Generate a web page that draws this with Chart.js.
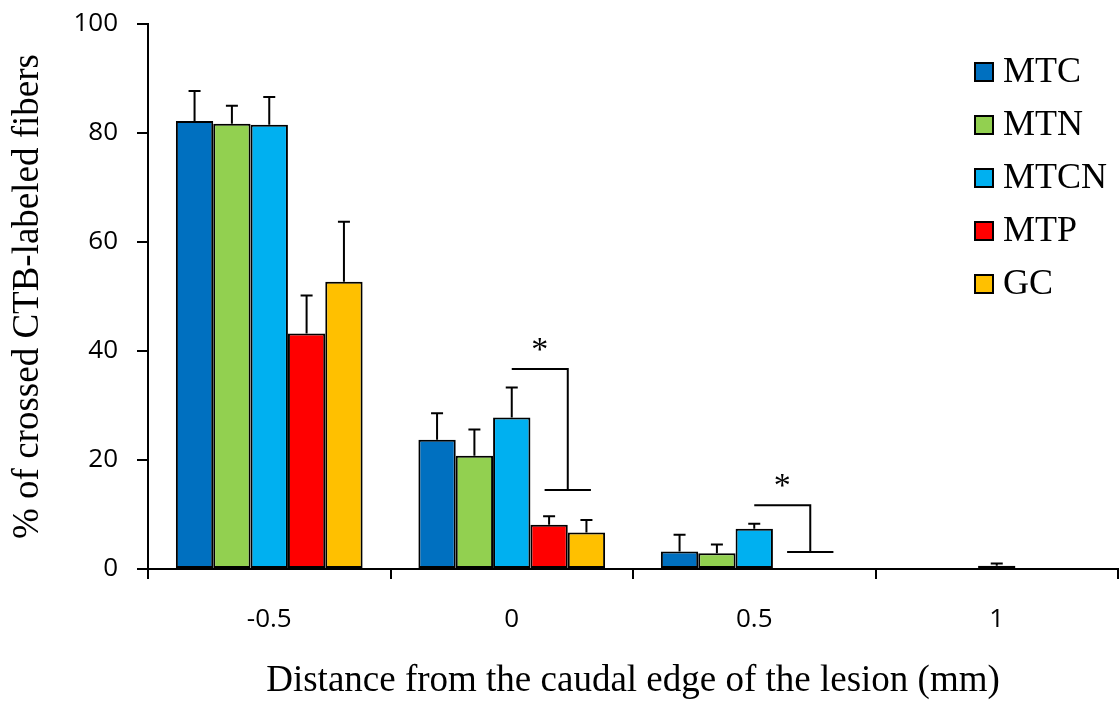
<!DOCTYPE html>
<html>
<head>
<meta charset="utf-8">
<script src="https://cdn.jsdelivr.net/npm/chart.js@4/dist/chart.umd.min.js"></script>
<style>
  html, body { margin: 0; padding: 0; background: #fff; }
</style>
</head>
<body>
<canvas id="chart" width="1120" height="702"></canvas>
<script>
// distance from the caudal edge (mm)
const distances = ['-0.5', '0', '0.5', '1'];
const groupNames = ['MTC', 'MTN', 'MTCN', 'MTP', 'GC'];
const groupColors = ['#0070C0', '#92D050', '#00B0F0', '#FF0000', '#FFC000'];

// mean % of crossed fibers per group
const mtcValues = [82.2, 23.7, 3.2, null];
const mtnValues = [81.7, 20.8, 2.9, null];
const mtcnValues = [81.5, 27.8, 7.4, 0.6];
const mtpValues = [43.2, 8.1, 0, null];
const gcValues = [52.7, 6.7, 0, null];

// upper error (SEM)
const mtcErrors = [5.5, 4.9, 3.1, 0];
const mtnErrors = [3.3, 4.8, 1.6, 0];
const mtcnErrors = [5.1, 5.5, 0.9, 0.4];
const mtpErrors = [7.0, 1.6, 0, 0];
const gcErrors = [11.0, 2.3, 0, 0];

// significance brackets: MTCN vs MTP/GC
const bracketCategories = [1, 2];
const bracketTop = [36.7, 11.7];
const bracketLow = [14.5, 3.1];
const starLevel = [41.2, 16.2];

const seriesValues = [mtcValues, mtnValues, mtcnValues, mtpValues, gcValues];
const seriesErrors = [mtcErrors, mtnErrors, mtcnErrors, mtpErrors, gcErrors];

const sansFont = "'Open Sans', sans-serif";
const serifFont = "'Liberation Serif', 'Times New Roman', serif";

const datasets = groupNames.map((name, i) => ({
  label: name,
  data: seriesValues[i],
  errors: seriesErrors[i],
  backgroundColor: groupColors[i],
  borderColor: '#000',
  borderWidth: 2,
  borderSkipped: false,
  categoryPercentage: 0.77,
  barPercentage: 1.0
}));

const errorBars = {
  id: 'errorBars',
  afterDatasetsDraw(chart) {
    const { ctx, scales: { y } } = chart;
    ctx.save();
    ctx.strokeStyle = '#000';
    ctx.lineWidth = 2;
    chart.data.datasets.forEach((ds, i) => {
      chart.getDatasetMeta(i).data.forEach((bar, j) => {
        const v = ds.data[j];
        const e = ds.errors[j];
        if (v == null || !e) return;
        const top = y.getPixelForValue(v + e);
        ctx.beginPath();
        ctx.moveTo(bar.x, bar.y);
        ctx.lineTo(bar.x, top);
        ctx.moveTo(bar.x - 6, top);
        ctx.lineTo(bar.x + 6, top);
        ctx.stroke();
      });
    });
    ctx.restore();
  }
};

const brackets = {
  id: 'brackets',
  afterDatasetsDraw(chart) {
    const { ctx, scales: { y } } = chart;
    ctx.save();
    ctx.strokeStyle = '#000';
    ctx.lineWidth = 2;
    ctx.fillStyle = '#000';
    ctx.font = '34px ' + serifFont;
    bracketCategories.forEach((cat, k) => {
      const from = chart.getDatasetMeta(2).data[cat];
      const mtp = chart.getDatasetMeta(3).data[cat];
      const gc = chart.getDatasetMeta(4).data[cat];
      const split = (mtp.x + gc.x) / 2;
      const half = mtp.width * 0.62;
      const topY = y.getPixelForValue(bracketTop[k]);
      const lowY = y.getPixelForValue(bracketLow[k]);
      ctx.beginPath();
      ctx.moveTo(from.x, topY);
      ctx.lineTo(split, topY);
      ctx.lineTo(split, lowY);
      ctx.moveTo(split - half, lowY);
      ctx.lineTo(split + half, lowY);
      ctx.stroke();
      const m = ctx.measureText('*');
      const starY = y.getPixelForValue(starLevel[k]);
      ctx.textAlign = 'center';
      ctx.textBaseline = 'alphabetic';
      ctx.fillText('*', (from.x + split) / 2,
        starY + (m.actualBoundingBoxAscent - m.actualBoundingBoxDescent) / 2);
    });
    ctx.restore();
  }
};

const boxLegend = {
  id: 'boxLegend',
  afterDraw(chart) {
    const { ctx, chartArea } = chart;
    const x0 = chartArea.right - 143;
    const y0 = chartArea.top + 48;
    ctx.save();
    ctx.font = '36px ' + serifFont;
    ctx.textBaseline = 'middle';
    ctx.textAlign = 'left';
    chart.data.datasets.forEach((ds, i) => {
      const cy = y0 + i * 53;
      ctx.fillStyle = ds.backgroundColor;
      ctx.fillRect(x0, cy - 9, 18, 18);
      ctx.strokeStyle = '#000';
      ctx.lineWidth = 2;
      ctx.strokeRect(x0, cy - 9, 18, 18);
      ctx.fillStyle = '#000';
      ctx.fillText(ds.label, x0 + 28, cy + 1);
    });
    ctx.restore();
  }
};

new Chart(document.getElementById('chart'), {
  type: 'bar',
  data: { labels: distances, datasets },
  options: {
    responsive: false,
    animation: false,
    layout: { padding: { top: 24, right: 2, bottom: 0, left: 0 } },
    plugins: {
      legend: { display: false },
      tooltip: { enabled: false }
    },
    scales: {
      x: {
        grid: {
          offset: true,
          drawOnChartArea: false,
          tickLength: 10,
          color: '#000',
          lineWidth: 2
        },
        border: { color: '#000', width: 2 },
        ticks: {
          color: '#000',
          font: { family: sansFont, size: 26 },
          padding: 25
        },
        title: {
          display: true,
          text: 'Distance from the caudal edge of the lesion (mm)',
          color: '#000',
          font: { family: serifFont, size: 37, lineHeight: 1.1 },
          padding: 0
        },
        afterFit: (scale) => { scale.height = 133; }
      },
      y: {
        min: 0,
        max: 100,
        ticks: {
          stepSize: 20,
          color: '#000',
          font: { family: sansFont, size: 26 },
          padding: 19
        },
        grid: {
          drawOnChartArea: false,
          tickLength: 11,
          color: '#000',
          lineWidth: 2
        },
        border: { color: '#000', width: 2 },
        title: {
          display: true,
          text: '% of crossed CTB-labeled fibers',
          color: '#000',
          font: { family: serifFont, size: 37, lineHeight: 1.2 },
          padding: { top: 6, bottom: 0 }
        },
        afterFit: (scale) => {
          // the top label may overhang the plot; keep the area flush with the padding
          scale.width = 148;
          scale.paddingTop = 0;
          scale.paddingBottom = 0;
        }
      }
    }
  },
  plugins: [errorBars, brackets, boxLegend]
});
</script>
</body>
</html>
